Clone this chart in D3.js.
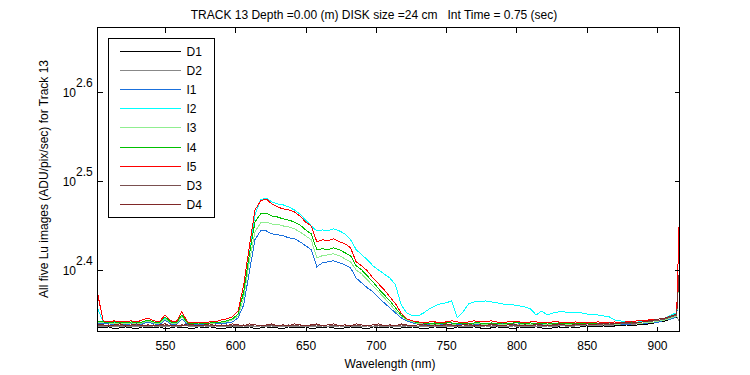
<!DOCTYPE html>
<html>
<head>
<meta charset="utf-8">
<script src="https://cdn.jsdelivr.net/npm/d3@7"></script>
<style>
    body { margin: 0; background: #fff; }
    text { font-family: "Liberation Sans", Arial, sans-serif; font-size: 12px; fill: #000; }
</style>
</head>
<body>
<div id="chart"></div>
<script>
// wavelength grid (nm), shared by every series
const wavelength = [
    502, 506, 510, 514, 518, 522, 526, 530, 534, 538,
    542, 546, 550, 554, 558, 562, 566, 570, 574, 578,
    582, 586, 590, 594, 598, 602, 606, 610, 614, 618,
    622, 626, 630, 634, 638, 642, 646, 650, 654, 658,
    662, 666, 670, 674, 678, 682, 686, 690, 694, 698,
    702, 706, 710, 714, 718, 722, 726, 730, 734, 738,
    742, 746, 750, 754, 758, 762, 766, 770, 774, 778,
    782, 786, 790, 794, 798, 802, 806, 810, 814, 818,
    822, 826, 830, 834, 838, 842, 846, 850, 854, 858,
    862, 866, 870, 874, 878, 882, 886, 890, 894, 898,
    902, 906, 910, 914, 916
];

// Lu values (ADU/pix/sec)
const D1 = [
    216.8, 216.2, 216.8, 215.7, 216.2, 216.8, 216.2, 215.7, 216.8, 216.2,
    216.2, 216.8, 215.7, 216.2, 216.8, 216.2, 216.2, 215.7, 216.8, 216.2,
    216.8, 216.2, 215.7, 216.2, 216.8, 216.2, 216.2, 216.8, 215.7, 216.2,
    216.8, 216.2, 216.2, 215.7, 216.8, 216.2, 216.2, 216.8, 215.7, 216.2,
    216.2, 216.8, 216.2, 215.7, 216.2, 216.8, 216.2, 216.2, 215.7, 216.8,
    216.2, 216.2, 216.8, 215.7, 216.2, 216.2, 216.8, 216.2, 215.7, 216.2,
    216.8, 216.2, 216.2, 215.7, 216.8, 216.2, 216.2, 216.8, 216.2, 215.7,
    216.2, 216.8, 216.2, 216.2, 215.7, 216.8, 216.2, 216.2, 216.8, 216.2,
    215.7, 216.2, 216.8, 216.2, 216.8, 216.2, 216.8, 217.3, 216.8, 216.8,
    217.3, 216.8, 217.3, 217.3, 217.9, 217.3, 217.9, 217.9, 218.5, 219.0,
    219.6, 220.2, 221.3, 222.5, 219.6
];
const D2 = [
    217.3, 216.8, 217.3, 216.8, 216.8, 217.3, 216.8, 217.3, 216.8, 216.8,
    217.3, 216.8, 216.8, 217.3, 216.8, 217.3, 217.3, 216.8, 216.8, 217.3,
    216.8, 217.3, 216.8, 216.8, 217.3, 216.8, 217.3, 216.8, 216.8, 217.3,
    216.8, 217.3, 216.8, 217.3, 216.8, 216.8, 217.3, 216.8, 217.3, 216.8,
    217.3, 216.8, 216.8, 217.3, 216.8, 217.3, 216.8, 216.8, 217.3, 216.8,
    217.3, 216.8, 217.3, 216.8, 216.8, 217.3, 216.8, 217.3, 216.8, 216.8,
    217.3, 216.8, 217.3, 216.8, 217.3, 216.8, 216.8, 217.3, 216.8, 217.3,
    216.8, 217.3, 216.8, 216.8, 217.3, 216.8, 217.3, 216.8, 217.3, 216.8,
    217.3, 216.8, 217.3, 217.3, 216.8, 217.3, 217.3, 217.9, 217.3, 217.3,
    217.9, 217.3, 217.9, 217.9, 218.5, 217.9, 218.5, 218.5, 219.0, 219.6,
    220.2, 220.7, 221.9, 223.0, 219.6
];
const I1 = [
    219.0, 218.5, 218.5, 217.9, 218.5, 217.9, 218.5, 217.9, 218.5, 219.6,
    218.5, 217.9, 220.7, 218.5, 217.9, 221.3, 217.9, 217.9, 217.9, 217.9,
    218.5, 218.5, 218.5, 219.0, 219.6, 221.9, 229.5, 249.9, 271.7, 278.0,
    278.0, 275.9, 275.2, 274.5, 273.1, 272.4, 270.3, 267.5, 264.8, 253.3,
    255.9, 256.6, 257.3, 255.9, 254.6, 252.6, 246.0, 242.9, 239.8, 237.4,
    233.7, 230.7, 227.7, 224.8, 221.9, 220.2, 219.0, 218.5, 217.9, 217.9,
    218.5, 217.9, 217.9, 218.5, 217.9, 217.9, 218.5, 217.9, 217.9, 218.5,
    217.9, 217.9, 218.5, 217.9, 217.9, 218.5, 217.9, 217.9, 218.5, 217.9,
    217.9, 218.5, 217.9, 217.9, 218.5, 217.9, 217.9, 218.5, 217.9, 217.9,
    218.5, 217.9, 217.9, 218.5, 217.9, 218.5, 218.5, 218.5, 219.0, 219.0,
    219.6, 220.7, 221.3, 222.5, 253.3
];
const I2 = [
    227.7, 219.6, 219.0, 219.0, 218.5, 219.0, 219.0, 218.5, 219.0, 220.2,
    219.0, 218.5, 221.9, 219.0, 218.5, 223.0, 218.5, 218.5, 218.5, 218.5,
    219.0, 219.0, 219.0, 219.6, 220.7, 223.0, 233.7, 261.3, 289.8, 301.2,
    302.8, 299.7, 298.1, 297.4, 295.8, 293.5, 290.5, 285.9, 281.6, 278.0,
    278.7, 278.0, 279.5, 278.0, 275.9, 271.7, 264.8, 261.3, 258.0, 253.9,
    251.2, 248.6, 246.0, 241.7, 229.5, 224.8, 223.0, 223.0, 224.8, 227.1,
    228.9, 230.1, 230.7, 231.9, 221.9, 225.4, 230.1, 231.3, 231.3, 231.9,
    231.3, 230.7, 230.1, 229.5, 229.5, 228.9, 228.3, 227.1, 223.6, 225.9,
    223.6, 224.8, 225.4, 225.4, 224.8, 224.8, 224.8, 224.2, 223.6, 223.6,
    223.0, 222.5, 220.7, 220.2, 219.6, 219.6, 220.2, 219.6, 220.2, 220.7,
    221.3, 221.9, 223.6, 224.8, 253.3
];
const I3 = [
    219.6, 219.0, 219.0, 218.5, 219.0, 218.5, 219.0, 218.5, 219.0, 220.2,
    219.0, 218.5, 221.3, 219.0, 218.5, 222.5, 218.5, 218.5, 218.5, 218.5,
    218.5, 219.0, 219.0, 219.6, 220.7, 223.0, 233.7, 256.6, 277.3, 283.8,
    284.5, 283.0, 283.0, 281.6, 280.9, 279.5, 277.3, 274.5, 271.7, 259.3,
    260.7, 261.3, 262.0, 260.7, 258.6, 256.6, 251.2, 248.6, 244.8, 241.0,
    237.4, 233.7, 230.1, 225.9, 223.0, 220.7, 219.6, 218.5, 218.5, 218.5,
    217.9, 218.5, 218.5, 217.9, 218.5, 218.5, 217.9, 218.5, 218.5, 217.9,
    218.5, 218.5, 217.9, 218.5, 218.5, 217.9, 218.5, 217.9, 218.5, 218.5,
    217.9, 218.5, 217.9, 218.5, 217.9, 218.5, 217.9, 218.5, 217.9, 218.5,
    217.9, 218.5, 217.9, 218.5, 218.5, 218.5, 218.5, 219.0, 219.0, 219.6,
    220.2, 220.7, 221.9, 223.0, 253.3
];
const I4 = [
    220.2, 219.6, 219.0, 219.6, 219.0, 219.0, 219.6, 219.0, 219.6, 220.7,
    219.6, 219.0, 222.5, 219.6, 219.0, 223.6, 219.0, 218.5, 219.0, 218.5,
    219.0, 219.0, 219.6, 220.2, 221.3, 224.2, 237.4, 261.3, 284.5, 290.5,
    291.2, 289.0, 288.2, 286.8, 285.9, 284.5, 282.4, 278.7, 275.9, 264.8,
    265.4, 264.8, 266.1, 264.8, 262.7, 260.7, 253.9, 251.2, 247.3, 243.5,
    239.2, 235.5, 231.9, 227.7, 223.6, 221.3, 220.2, 219.0, 219.0, 218.5,
    219.0, 218.5, 219.0, 219.0, 218.5, 219.0, 218.5, 219.0, 219.0, 218.5,
    219.0, 218.5, 219.0, 218.5, 219.0, 219.0, 218.5, 219.0, 218.5, 218.5,
    219.0, 218.5, 219.0, 218.5, 219.0, 218.5, 218.5, 219.0, 218.5, 219.0,
    218.5, 219.0, 218.5, 219.0, 218.5, 219.0, 219.0, 219.6, 219.6, 220.2,
    220.7, 221.3, 222.5, 223.6, 253.3
];
const I5 = [
    236.7, 220.2, 219.6, 220.2, 219.6, 219.6, 220.2, 219.6, 220.7, 221.9,
    220.2, 219.6, 223.6, 220.2, 219.6, 225.4, 219.6, 219.0, 219.0, 219.0,
    219.6, 219.6, 220.7, 221.3, 222.5, 225.9, 241.7, 266.8, 293.5, 300.4,
    302.0, 298.1, 295.8, 294.3, 293.5, 292.0, 289.0, 284.5, 281.6, 270.3,
    271.7, 271.0, 272.4, 270.3, 268.9, 266.1, 256.6, 253.9, 250.6, 246.0,
    242.3, 238.6, 234.3, 230.1, 224.8, 221.3, 220.2, 219.6, 219.0, 219.6,
    219.6, 219.0, 219.6, 220.2, 219.6, 219.0, 219.6, 220.2, 219.6, 219.6,
    220.2, 219.6, 219.0, 219.6, 219.6, 219.6, 219.0, 219.6, 219.6, 219.0,
    219.0, 219.6, 219.6, 219.0, 219.0, 219.6, 219.0, 219.0, 219.0, 219.6,
    219.0, 219.0, 219.6, 219.0, 219.6, 219.6, 220.2, 220.2, 220.7, 220.7,
    221.3, 221.9, 223.0, 224.2, 295.0
];
const D3 = [
    217.9, 217.3, 217.9, 217.3, 217.3, 217.9, 217.3, 217.3, 217.9, 217.3,
    217.9, 217.3, 217.3, 217.9, 217.3, 217.9, 217.3, 217.3, 217.9, 217.3,
    217.3, 217.9, 217.3, 217.9, 217.3, 217.3, 217.9, 217.3, 217.9, 217.3,
    217.3, 217.9, 217.3, 217.3, 217.9, 217.3, 217.9, 217.3, 217.3, 217.9,
    217.3, 217.9, 217.3, 217.3, 217.9, 217.3, 217.3, 217.9, 217.3, 217.9,
    217.3, 217.3, 217.9, 217.3, 217.9, 217.3, 217.3, 217.9, 217.3, 217.3,
    217.9, 217.3, 217.9, 217.3, 217.3, 217.9, 217.3, 217.9, 217.3, 217.3,
    217.9, 217.3, 217.3, 217.9, 217.3, 217.9, 217.3, 217.3, 217.9, 217.3,
    217.9, 217.3, 217.9, 217.9, 217.3, 217.9, 217.9, 218.5, 217.9, 217.9,
    218.5, 217.9, 218.5, 218.5, 219.0, 218.5, 219.0, 219.6, 219.6, 220.2,
    220.7, 221.3, 222.5, 223.6, 253.3
];
const D4 = [
    218.5, 217.9, 217.3, 217.9, 218.5, 217.3, 217.9, 218.5, 217.3, 217.9,
    217.3, 217.9, 218.5, 217.3, 217.9, 217.3, 218.5, 217.9, 217.3, 217.9,
    218.5, 217.3, 217.9, 217.3, 218.5, 217.9, 217.3, 218.5, 217.9, 217.3,
    217.9, 218.5, 217.3, 217.9, 217.3, 218.5, 217.9, 217.3, 217.9, 218.5,
    217.3, 217.9, 218.5, 217.3, 217.9, 217.3, 218.5, 217.9, 217.3, 217.9,
    218.5, 217.3, 217.9, 217.3, 218.5, 217.9, 217.3, 217.9, 218.5, 217.3,
    217.9, 217.3, 218.5, 217.9, 217.3, 217.9, 218.5, 217.3, 217.9, 217.3,
    218.5, 217.9, 217.3, 217.9, 218.5, 217.3, 217.9, 217.3, 218.5, 217.9,
    217.3, 217.9, 218.5, 217.9, 217.3, 218.5, 217.9, 218.5, 217.9, 218.5,
    218.5, 219.0, 218.5, 219.0, 219.0, 219.6, 219.0, 219.6, 220.2, 220.7,
    221.3, 221.9, 223.0, 224.2, 253.3
];

// legend order = plotting order
const seriesNames = ['D1', 'D2', 'I1', 'I2', 'I3', 'I4', 'I5', 'D3', 'D4'];
const seriesValues = [D1, D2, I1, I2, I3, I4, I5, D3, D4];

const xTicks = [550, 600, 650, 700, 750, 800, 850, 900];
const yTickExponents = ['2.4', '2.5', '2.6'];
const yLimits = [214.2, 470.9];

const titleText = 'TRACK 13 Depth =0.00 (m) DISK size =24 cm   Int Time = 0.75 (sec)';
const xLabelText = 'Wavelength (nm)';
const yLabelText = 'All five Lu images (ADU/pix/sec) for Track 13';

// styles
const COLORS = ['#000000', '#888888', '#1a70dc', '#00ffff', '#90ee90', '#00c000', '#ff0000', '#7a5050', '#802828'];
const WIDTH = 750, HEIGHT = 375;
const MARGIN = { LEFT: 97.5, RIGHT: 679.5, TOP: 27.5, BOTTOM: 331.5 };

const svg = d3.select('#chart')
    .append('svg')
    .attr('width', WIDTH)
    .attr('height', HEIGHT);

const x = d3.scaleLinear()
    .domain([wavelength[0], wavelength[wavelength.length - 1]])
    .range([MARGIN.LEFT, MARGIN.RIGHT]);

const y = d3.scaleLog()
    .domain(yLimits)
    .range([MARGIN.BOTTOM, MARGIN.TOP]);

svg.append('clipPath').attr('id', 'plot-clip')
    .append('rect')
    .attr('x', MARGIN.LEFT)
    .attr('y', MARGIN.TOP)
    .attr('width', MARGIN.RIGHT - MARGIN.LEFT + 1)
    .attr('height', MARGIN.BOTTOM - MARGIN.TOP);

// spectra
const line = d3.line()
    .x((d, i) => x(wavelength[i]))
    .y(d => y(d));

svg.append('g')
    .attr('clip-path', 'url(#plot-clip)')
    .selectAll('path.series')
    .data(seriesValues)
    .enter()
    .append('path')
    .attr('class', 'series')
    .attr('d', line)
    .attr('fill', 'none')
    .attr('stroke', (d, i) => COLORS[i])
    .attr('stroke-width', 1)
    .attr('shape-rendering', 'crispEdges');

// axes, ticks pointing inward
const yTickValues = yTickExponents.map(e => Math.pow(10, +e));

const xAxisBottom = svg.append('g')
    .attr('transform', `translate(0, ${MARGIN.BOTTOM})`)
    .call(d3.axisBottom(x).tickValues(xTicks).tickSizeInner(-5).tickSizeOuter(0).tickPadding(9.5));
const xAxisTop = svg.append('g')
    .attr('transform', `translate(0, ${MARGIN.TOP})`)
    .call(d3.axisTop(x).tickValues(xTicks).tickSizeInner(-5).tickSizeOuter(0).tickFormat(''));
const yAxisLeft = svg.append('g')
    .attr('transform', `translate(${MARGIN.LEFT}, 0)`)
    .call(d3.axisLeft(y).tickValues(yTickValues).tickSizeInner(-5).tickSizeOuter(0).tickFormat(''));
const yAxisRight = svg.append('g')
    .attr('transform', `translate(${MARGIN.RIGHT}, 0)`)
    .call(d3.axisRight(y).tickValues(yTickValues).tickSizeInner(-5).tickSizeOuter(0).tickFormat(''));

[xAxisBottom, xAxisTop, yAxisLeft, yAxisRight].forEach(g => {
    g.select('.domain').remove();
    g.selectAll('line').attr('stroke', '#000').attr('shape-rendering', 'crispEdges');
    g.selectAll('text')
        .style('font-family', '"Liberation Sans", Arial, sans-serif')
        .style('font-size', '12px')
        .attr('fill', '#000');
});

// y tick labels as 10^e
const yLabels = svg.append('g');
yTickExponents.forEach(e => {
    const ty = y(Math.pow(10, +e)) + 0.5;
    yLabels.append('text')
        .attr('x', 76)
        .attr('y', ty + 4.5)
        .attr('text-anchor', 'end')
        .text('10');
    yLabels.append('text')
        .attr('x', 76)
        .attr('y', ty - 6)
        .attr('text-anchor', 'start')
        .text(e);
});

// box
svg.append('rect')
    .attr('x', MARGIN.LEFT)
    .attr('y', MARGIN.TOP)
    .attr('width', MARGIN.RIGHT - MARGIN.LEFT)
    .attr('height', MARGIN.BOTTOM - MARGIN.TOP)
    .attr('fill', 'none')
    .attr('stroke', '#000')
    .attr('shape-rendering', 'crispEdges');

// legend
const legend = svg.append('g').attr('transform', 'translate(108.5, 38.5)');
legend.append('rect')
    .attr('width', 106)
    .attr('height', 179)
    .attr('fill', '#fff')
    .attr('stroke', '#000')
    .attr('shape-rendering', 'crispEdges');

const items = legend.selectAll('g.item')
    .data(seriesNames)
    .enter()
    .append('g')
    .attr('class', 'item')
    .attr('transform', (d, i) => `translate(0, ${Math.round(13 + i * 19.1)})`);
items.append('line')
    .attr('x1', 11)
    .attr('x2', 72)
    .attr('stroke', (d, i) => COLORS[i])
    .attr('shape-rendering', 'crispEdges');
items.append('text')
    .attr('x', 78)
    .attr('y', 4.5)
    .text(d => d);

// titles
svg.append('text')
    .attr('x', 374)
    .attr('y', 18.5)
    .attr('text-anchor', 'middle')
    .style('white-space', 'pre')
    .text(titleText);

svg.append('text')
    .attr('x', 390)
    .attr('y', 368)
    .attr('text-anchor', 'middle')
    .text(xLabelText);

svg.append('text')
    .attr('transform', 'translate(47.5, 179) rotate(-90)')
    .attr('text-anchor', 'middle')
    .text(yLabelText);
</script>
</body>
</html>
